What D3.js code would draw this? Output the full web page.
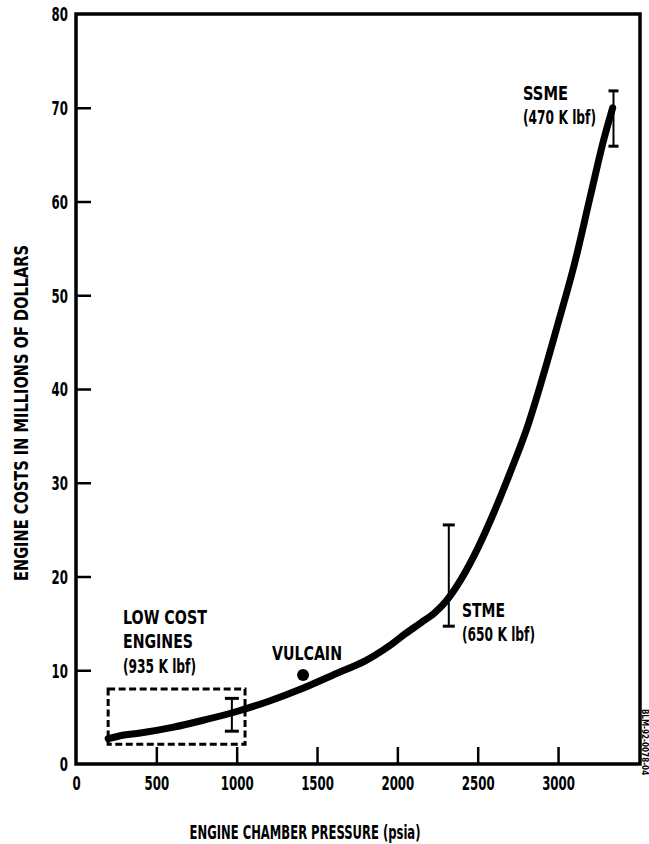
<!DOCTYPE html>
<html>
<head>
<meta charset="utf-8">
<script src="https://cdn.jsdelivr.net/npm/d3@7"></script>
<style>
  body { margin: 0; background: #fff; }
  svg text { font-family: "DejaVu Sans Condensed", "DejaVu Sans", sans-serif; font-weight: bold; fill: #000; }
</style>
</head>
<body>
<div id="chart"></div>
<script>
// DATA
const pressure = [200, 300, 400, 600, 800, 1000, 1200, 1400, 1600, 1800, 1950, 2050, 2150, 2230, 2300, 2400, 2500, 2600, 2700, 2800, 2900, 3000, 3100, 3200, 3280, 3340];
const cost = [2.7, 3.1, 3.3, 3.9, 4.7, 5.6, 6.7, 8.0, 9.5, 11.0, 12.6, 13.9, 15.1, 16.1, 17.3, 19.8, 23.0, 26.8, 31.0, 35.5, 41.0, 47.0, 53.2, 60.5, 66.3, 70.0];
const xTicks = [0, 500, 1000, 1500, 2000, 2500, 3000];
const yTicks = [0, 10, 20, 30, 40, 50, 60, 70, 80];
// error bars
const errEngines = ["LOW COST", "STME", "SSME"];
const errPressure = [970, 2320, 3345];
const errLow = [3.5, 14.7, 65.9];
const errHigh = [7.0, 25.5, 71.8];
const vulcain = { p: 1413, c: 9.5 };
const lowCostBox = { p0: 200, p1: 1052, c0: 2.1, c1: 8.0 };

// MARGIN, WIDTH, HEIGHT
const svgWidth = 649;
const svgHeight = 844;
const margin = { top: 14, right: 9, bottom: 80, left: 76 };
const width = svgWidth - margin.left - margin.right;
const height = svgHeight - margin.top - margin.bottom;
const digitWidth = 8.2;

const xScale = d3.scaleLinear().domain([0, 3510]).range([0, width]);
const yScale = d3.scaleLinear().domain([0, 80]).range([height, 0]);

const svg = d3.select("#chart")
  .append("svg")
  .attr("width", svgWidth)
  .attr("height", svgHeight);

const g = svg.append("g")
  .attr("transform", `translate(${margin.left},${margin.top})`);

// FRAME
g.append("rect")
  .attr("x", 0).attr("y", 0)
  .attr("width", width).attr("height", height)
  .attr("fill", "none")
  .attr("stroke", "#000")
  .attr("stroke-width", 3.5);

// AXES (ticks point inward)
const xAxis = d3.axisBottom(xScale).tickValues(xTicks).tickFormat(d3.format("d")).tickSizeInner(-17).tickSizeOuter(0);
const yAxis = d3.axisLeft(yScale).tickValues(yTicks).tickFormat(d3.format("d")).tickSizeInner(-15).tickSizeOuter(0);

const gx = g.append("g").attr("transform", `translate(0,${height})`).call(xAxis);
const gy = g.append("g").call(yAxis);

[gx, gy].forEach(a => {
  a.select(".domain").remove();
  a.selectAll(".tick line").attr("stroke", "#000").attr("stroke-width", 2.5);
  a.selectAll(".tick text")
    .style("font-size", "19px")
    .attr("fill", "#000")
    .attr("textLength", d => String(d).length * digitWidth)
    .attr("lengthAdjust", "spacingAndGlyphs");
});
gx.selectAll(".tick line").filter(d => d === 0).remove();
gy.selectAll(".tick line").filter(d => d === 0 || d === 80).remove();
gy.selectAll(".tick text").attr("dy", "0.36em").attr("x", -8).style("text-anchor", "end");
gx.selectAll(".tick text").attr("y", 13).attr("dy", "0.71em");

// AXIS TITLES
svg.append("text")
  .attr("transform", "translate(21,413) rotate(-90)")
  .attr("text-anchor", "middle")
  .attr("dy", "0.36em")
  .attr("textLength", 336)
  .attr("lengthAdjust", "spacingAndGlyphs")
  .style("font-size", "19px")
  .text("ENGINE COSTS IN MILLIONS OF DOLLARS");

svg.append("text")
  .attr("x", 305)
  .attr("y", 832)
  .attr("text-anchor", "middle")
  .attr("dy", "0.36em")
  .attr("textLength", 231)
  .attr("lengthAdjust", "spacingAndGlyphs")
  .style("font-size", "19px")
  .text("ENGINE CHAMBER PRESSURE (psia)");

// LOW COST BOX (dashed)
g.append("rect")
  .attr("x", xScale(lowCostBox.p0))
  .attr("y", yScale(lowCostBox.c1))
  .attr("width", xScale(lowCostBox.p1) - xScale(lowCostBox.p0))
  .attr("height", yScale(lowCostBox.c0) - yScale(lowCostBox.c1))
  .attr("fill", "none")
  .attr("stroke", "#000")
  .attr("stroke-width", 3)
  .attr("stroke-dasharray", "7,3.5");

// COST CURVE
const line = d3.line()
  .x((d, i) => xScale(pressure[i]))
  .y((d, i) => yScale(cost[i]))
  .curve(d3.curveCatmullRom.alpha(0.5));

g.append("path")
  .datum(pressure)
  .attr("d", line)
  .attr("fill", "none")
  .attr("stroke", "#000")
  .attr("stroke-width", 7)
  .attr("stroke-linecap", "round");

// ERROR BARS
const capHalf = [7, 6, 5];
errEngines.forEach((name, i) => {
  const x = xScale(errPressure[i]);
  const bar = g.append("g").attr("stroke", "#000").attr("stroke-width", 2);
  bar.append("line").attr("x1", x).attr("x2", x).attr("y1", yScale(errLow[i])).attr("y2", yScale(errHigh[i]));
  bar.append("line").attr("x1", x - capHalf[i]).attr("x2", x + capHalf[i]).attr("y1", yScale(errLow[i])).attr("y2", yScale(errLow[i])).attr("stroke-width", 3);
  bar.append("line").attr("x1", x - capHalf[i]).attr("x2", x + capHalf[i]).attr("y1", yScale(errHigh[i])).attr("y2", yScale(errHigh[i])).attr("stroke-width", 3);
});

// VULCAIN POINT
g.append("circle")
  .attr("cx", xScale(vulcain.p))
  .attr("cy", yScale(vulcain.c))
  .attr("r", 6)
  .attr("fill", "#000");

// ANNOTATIONS  [text, width in px]
const addLabel = (lines, x, y, anchor) => {
  const t = svg.append("text")
    .attr("text-anchor", anchor)
    .style("font-size", "19px");
  lines.forEach((s, i) => {
    t.append("tspan")
      .attr("x", x)
      .attr("y", y + i * 24.5)
      .attr("dy", "0.36em")
      .attr("textLength", s[1])
      .attr("lengthAdjust", "spacingAndGlyphs")
      .text(s[0]);
  });
};

addLabel([["LOW COST", 84], ["ENGINES", 70], ["(935 K lbf)", 73]], 123, 617, "start");
addLabel([["VULCAIN", 70]], 307, 653, "middle");
addLabel([["STME", 43], ["(650 K lbf)", 73]], 462, 610, "start");
addLabel([["SSME", 45], ["(470 K lbf)", 73]], 523, 93, "start");

// DOCUMENT ID (right edge)
svg.append("text")
  .attr("transform", "translate(645,742) rotate(90)")
  .attr("text-anchor", "middle")
  .attr("dy", "0.35em")
  .style("font-size", "8px")
  .text("BLM-92-0078-04");
</script>
</body>
</html>
